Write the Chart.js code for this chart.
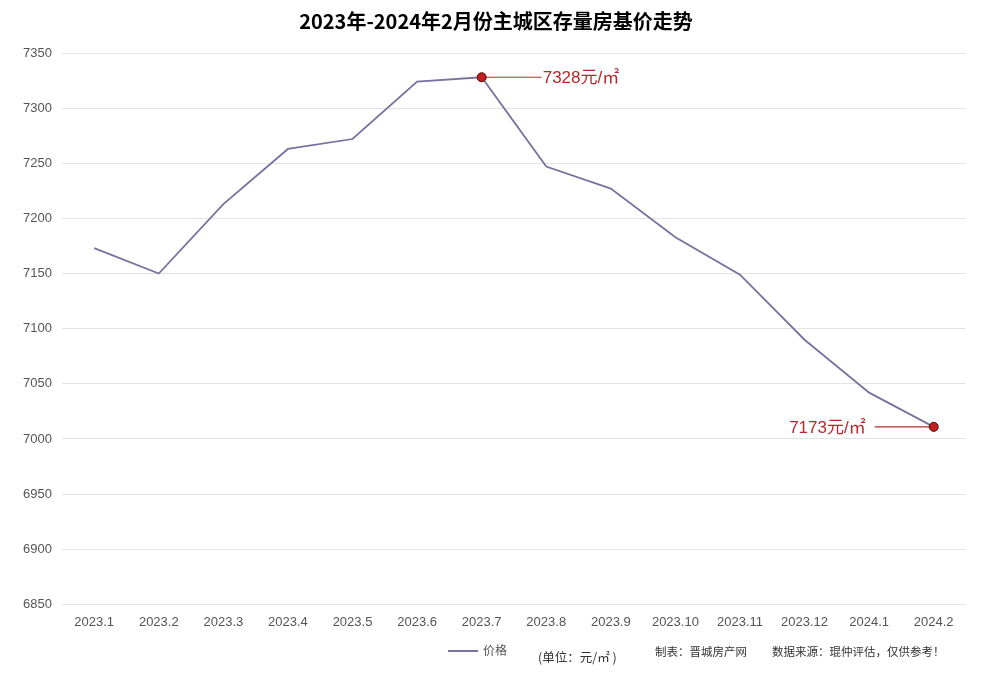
<!DOCTYPE html>
<html>
<head>
<meta charset="utf-8">
<script src="https://cdn.jsdelivr.net/npm/chart.js@4/dist/chart.umd.min.js"></script>
<style>
  html, body { margin: 0; padding: 0; background: #fff; }
  #wrap { width: 993px; height: 675px; position: relative; }
</style>
</head>
<body>
<div id="wrap"><canvas id="c"></canvas></div>
<script>
const titleText = '2023年-2024年2月份主城区存量房基价走势';
const categories = ['2023.1','2023.2','2023.3','2023.4','2023.5','2023.6','2023.7','2023.8','2023.9','2023.10','2023.11','2023.12','2024.1','2024.2'];
const prices = [7173, 7150, 7213, 7263, 7272, 7324, 7328, 7247, 7227, 7183, 7149, 7090, 7042, 7011];
const seriesName = '价格';
const yMin = 6850, yMax = 7350, yStep = 50;
const markedIndexes = [6, 13];
const markedLabels = ['7328元/㎡', '7173元/㎡'];
const footnotes = ['(单位：元/㎡ )', '制表：晋城房产网', '数据来源：琨仲评估，仅供参考！'];

const LINE_COLOR = '#77729f';
const MARK_COLOR = '#b8282b';
const BASE_FONT = '"Liberation Sans", Arial, "Noto Sans CJK SC", sans-serif';
const CJK_FONT = '"Noto Sans CJK SC", "Liberation Sans", sans-serif';

const extras = {
  id: 'extras',
  afterDatasetsDraw(chart) {
    const ctx = chart.ctx;
    const meta = chart.getDatasetMeta(0);
    const last = prices.length - 1;
    ctx.save();
    markedIndexes.forEach((idx, k) => {
      const pt = meta.data[idx];
      const x = pt.x, y = pt.y;
      ctx.strokeStyle = MARK_COLOR;
      ctx.lineWidth = 1.2;
      ctx.font = '17px ' + BASE_FONT;
      ctx.fillStyle = MARK_COLOR;
      ctx.textBaseline = 'middle';
      ctx.beginPath();
      if (idx === last) {
        ctx.moveTo(x, y); ctx.lineTo(x - 59, y); ctx.stroke();
        ctx.textAlign = 'right';
        ctx.fillText(markedLabels[k], x - 68, y + 1);
      } else {
        ctx.moveTo(x, y); ctx.lineTo(x + 60, y); ctx.stroke();
        ctx.textAlign = 'left';
        ctx.fillText(markedLabels[k], x + 61, y + 1);
      }
    });
    markedIndexes.forEach(idx => {
      const pt = meta.data[idx];
      ctx.beginPath();
      ctx.arc(pt.x, pt.y, 4.5, 0, Math.PI * 2);
      ctx.fillStyle = '#c41e1e';
      ctx.fill();
      ctx.lineWidth = 1;
      ctx.strokeStyle = '#4a0a0a';
      ctx.stroke();
    });
    ctx.restore();
  },
  afterDraw(chart) {
    const ctx = chart.ctx;
    ctx.save();
    ctx.fillStyle = '#000';
    ctx.font = 'bold 20px ' + CJK_FONT;
    ctx.textAlign = 'center';
    ctx.textBaseline = 'middle';
    ctx.fillText(titleText, 496, 21);
    ctx.strokeStyle = LINE_COLOR;
    ctx.lineWidth = 2;
    ctx.beginPath();
    ctx.moveTo(448, 651); ctx.lineTo(478, 651); ctx.stroke();
    ctx.fillStyle = '#555';
    ctx.font = '12px ' + CJK_FONT;
    ctx.textAlign = 'left';
    ctx.fillText(seriesName, 483, 650);
    ctx.fillStyle = '#333';
    ctx.font = '12.5px ' + CJK_FONT;
    ctx.fillText(footnotes[0], 538, 657);
    ctx.font = '11.5px ' + CJK_FONT;
    ctx.fillText(footnotes[1], 655, 652);
    ctx.fillText(footnotes[2], 772, 652);
    ctx.restore();
  }
};

new Chart(document.getElementById('c'), {
  type: 'line',
  data: {
    labels: categories,
    datasets: [{
      label: seriesName,
      data: prices,
      borderColor: LINE_COLOR,
      backgroundColor: LINE_COLOR,
      borderWidth: 1.8,
      tension: 0,
      pointRadius: 0,
      pointHoverRadius: 0,
      fill: false
    }]
  },
  options: {
    responsive: true,
    maintainAspectRatio: false,
    animation: false,
    devicePixelRatio: 1,
    layout: { padding: { top: 53, left: 13, right: 27, bottom: 35 } },
    plugins: {
      legend: { display: false },
      title: { display: false },
      tooltip: { enabled: false }
    },
    scales: {
      x: {
        offset: true,
        grid: { display: false, drawTicks: false },
        border: { display: false },
        ticks: { color: '#555', font: { size: 13, family: BASE_FONT }, padding: 10, maxRotation: 0, autoSkip: false }
      },
      y: {
        min: yMin,
        max: yMax,
        grid: { color: '#e3e3e3', drawTicks: false, lineWidth: 1 },
        border: { display: false },
        ticks: { stepSize: yStep, color: '#555', font: { size: 13, family: BASE_FONT }, padding: 10,
                 callback: v => String(v) }
      }
    }
  },
  plugins: [extras]
});
</script>
</body>
</html>
